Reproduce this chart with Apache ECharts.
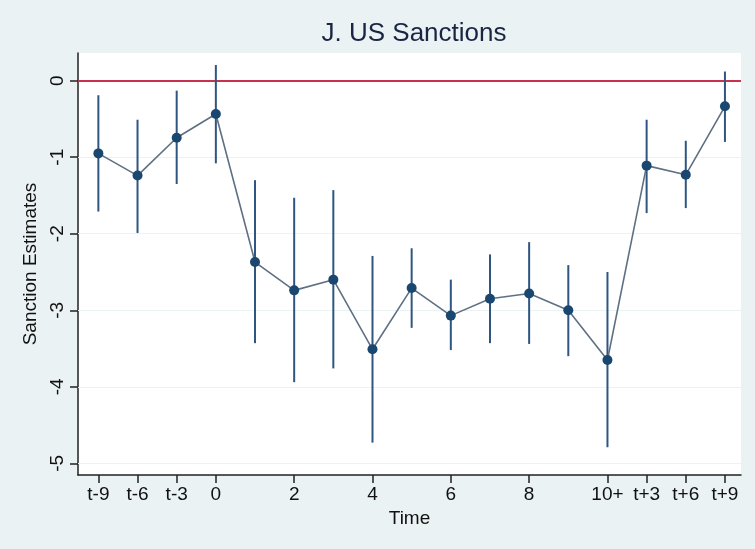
<!DOCTYPE html>
<html>
<head>
<meta charset="utf-8">
<script src="https://cdn.jsdelivr.net/npm/echarts@6/dist/echarts.min.js"></script>
<style>
html,body{margin:0;padding:0;background:#eaf2f3;}
#chart{width:755px;height:549px;}
</style>
</head>
<body>
<div id="chart"></div>
<script>
const categories = ['t-9','t-6','t-3','0','1','2','3','4','5','6','7','8','9','10+','t+3','t+6','t+9'];
const shownLabels = ['t-9','t-6','t-3','0','2','4','6','8','10+','t+3','t+6','t+9'];
const estimates = [-0.95, -1.24, -0.745, -0.435, -2.37, -2.74, -2.60, -3.51, -2.71, -3.07, -2.85, -2.78, -3.00, -3.65, -1.11, -1.23, -0.335];
const upper = [-0.19, -0.51, -0.13, 0.205, -1.30, -1.53, -1.43, -2.29, -2.19, -2.60, -2.27, -2.11, -2.41, -2.50, -0.51, -0.785, 0.12];
const lower = [-1.71, -1.99, -1.35, -1.08, -3.43, -3.94, -3.76, -4.73, -3.23, -3.52, -3.43, -3.44, -3.60, -4.79, -1.73, -1.665, -0.80];
const yTicks = [-5, -4, -3, -2, -1, 0];

const xTickIdx = categories.map((c, i) => shownLabels.includes(c) ? i : null).filter(v => v !== null);
const pointData = estimates.map((v, i) => [i, v]);
const ciData = estimates.map((v, i) => [i, lower[i], upper[i]]);

const font = 'Liberation Sans, Arial, sans-serif';
const chart = echarts.init(document.getElementById('chart'));
chart.setOption({
  backgroundColor: '#eaf2f3',
  animation: false,
  title: {
    text: 'J. US Sanctions',
    left: 409, top: 16, textAlign: 'center',
    textStyle: {fontFamily: font, fontSize: 26, fontWeight: 'normal', color: '#1a2544'}
  },
  grid: {left: 78, right: 14, top: 53, bottom: 74, show: true, backgroundColor: '#ffffff', borderWidth: 0},
  xAxis: {
    type: 'value', min: -0.52, max: 16.41,
    name: 'Time', nameLocation: 'middle', nameGap: 28,
    nameTextStyle: {fontFamily: font, fontSize: 19, color: '#111'},
    axisLine: {show: true, onZero: false, lineStyle: {color: '#222', width: 1.5}},
    axisTick: {show: true, length: 8, customValues: xTickIdx, lineStyle: {color: '#222', width: 1.5}},
    axisLabel: {customValues: xTickIdx, margin: 10, fontFamily: font, fontSize: 19, color: '#111',
      formatter: v => categories[Math.round(v)]},
    splitLine: {show: false}
  },
  yAxis: {
    type: 'value', min: -5.153, max: 0.362,
    name: 'Sanction Estimates', nameLocation: 'middle', nameGap: 37,
    nameTextStyle: {fontFamily: font, fontSize: 19, color: '#111'},
    axisLine: {show: true, onZero: false, lineStyle: {color: '#222', width: 1.5}},
    axisTick: {show: true, length: 8, customValues: yTicks, lineStyle: {color: '#222', width: 1.5}},
    axisLabel: {customValues: yTicks, rotate: 90, margin: 11, fontFamily: font, fontSize: 19, color: '#111'},
    splitLine: {show: false}
  },
  series: [
    {
      type: 'line',
      z: 1,
      silent: true,
      data: [],
      markLine: {
        z: 1,
        silent: true, symbol: 'none', label: {show: false},
        lineStyle: {color: '#eaf2f3', width: 1.2, type: 'solid'},
        data: yTicks.filter(v => v !== 0).map(v => ({yAxis: v}))
      }
    },
    {
      type: 'line',
      z: 1,
      silent: true,
      data: [],
      markLine: {
        z: 1,
        silent: true, symbol: 'none', label: {show: false},
        lineStyle: {color: '#c8324f', width: 2, type: 'solid'},
        data: [{yAxis: 0}]
      }
    },
    {
      type: 'custom',
      z: 3,
      silent: true,
      data: ciData,
      renderItem: function (params, api) {
        const x = api.value(0);
        const p1 = api.coord([x, api.value(1)]);
        const p2 = api.coord([x, api.value(2)]);
        return {type: 'line', shape: {x1: p1[0], y1: p1[1], x2: p2[0], y2: p2[1]},
          style: {stroke: '#2e5680', lineWidth: 2}};
      },
      encode: {x: 0, y: [1, 2]}
    },
    {
      type: 'line',
      z: 4,
      data: pointData,
      symbol: 'circle', symbolSize: 10,
      itemStyle: {color: '#1a476f'},
      lineStyle: {color: '#5f7084', width: 1.6}
    }
  ]
});
</script>
</body>
</html>
